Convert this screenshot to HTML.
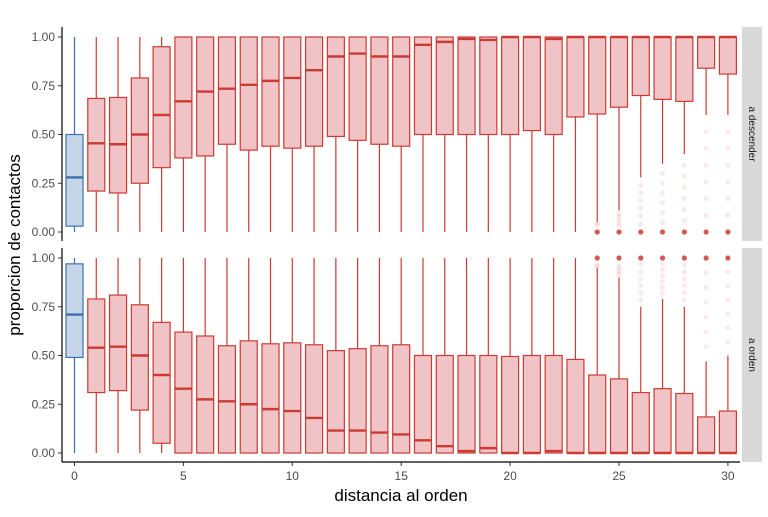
<!DOCTYPE html>
<html><head><meta charset="utf-8"><style>
body{margin:0;background:#fff;width:768px;height:512px;overflow:hidden;font-family:"Liberation Sans",sans-serif}
</style></head><body>
<svg id="s" width="768" height="512" xmlns="http://www.w3.org/2000/svg" font-family="Liberation Sans, sans-serif"></svg>
<script>
(function(){
var s=document.getElementById('s');var h='';
function X(i){return 74.5+i*21.78;}
var dTop=[[0,.03,.28,.5,1],[0,.21,.455,.685,1],[0,.2,.45,.69,1],[0,.25,.5,.79,1],[0,.33,.6,.95,1],[0,.38,.67,1,1],[0,.39,.72,1,1],[0,.45,.735,1,1],[0,.42,.755,1,1],[0,.44,.775,1,1],[0,.43,.79,1,1],[0,.44,.83,1,1],[0,.49,.9,1,1],[0,.47,.915,1,1],[0,.45,.9,1,1],[0,.44,.9,1,1],[0,.5,.96,1,1],[0,.5,.975,1,1],[0,.5,.99,1,1],[0,.5,.985,1,1],[0,.5,1,1,1],[0,.52,1,1,1],[0,.5,.99,1,1],[0,.59,1,1,1],[.05,.605,1,1,1],[.11,.64,1,1,1],[.28,.7,1,1,1],[.35,.68,1,1,1],[.4,.67,1,1,1],[.6,.84,1,1,1],[.6,.81,1,1,1]];
var dBot=[[0,.49,.71,.97,1],[0,.31,.54,.79,1],[0,.32,.545,.81,1],[0,.22,.5,.76,1],[0,.05,.4,.67,1],[0,0,.33,.62,1],[0,0,.275,.6,1],[0,0,.265,.55,1],[0,0,.25,.575,1],[0,0,.225,.56,1],[0,0,.215,.565,1],[0,0,.18,.555,1],[0,0,.115,.525,1],[0,0,.115,.535,1],[0,0,.105,.55,1],[0,0,.095,.555,1],[0,0,.065,.5,1],[0,0,.035,.5,1],[0,0,.01,.5,1],[0,0,.025,.5,1],[0,0,0,.495,1],[0,0,0,.5,1],[0,0,.01,.5,1],[0,0,0,.48,1],[0,0,0,.4,.95],[0,0,0,.38,.9],[0,0,0,.31,.75],[0,0,0,.33,.79],[0,0,0,.305,.75],[0,0,0,.185,.47],[0,0,0,.215,.5]];
function panel(d,y0,pt,pb,outTop){
 function Y(v){return y0-v*195;}
 h+='<line x1="62" y1="'+pt+'" x2="62" y2="'+pb+'" stroke="#000" stroke-width="1.2"/>';
 [0,.25,.5,.75,1].forEach(function(v){h+='<line x1="58" x2="62" y1="'+Y(v)+'" y2="'+Y(v)+'" stroke="#333"/><text x="55" y="'+(Y(v)+4)+'" font-size="12" fill="#4d4d4d" text-anchor="end">'+v.toFixed(2)+'</text>';});
 d.forEach(function(b,i){var x=X(i),c=i==0?'#3a6fb0':'#cc3a33',f=i==0?'#c6d5e8':'#f0c4c6';
  h+='<line x1="'+x+'" x2="'+x+'" y1="'+Y(b[0])+'" y2="'+Y(b[4])+'" stroke="'+c+'" stroke-width="1.2"/>';
  h+='<rect x="'+(x-8.5)+'" y="'+Y(b[3])+'" width="17" height="'+Math.max(Y(b[1])-Y(b[3]),0.5)+'" fill="'+f+'" stroke="'+c+'" stroke-width="1.2"/>';
  h+='<line x1="'+(x-8.5)+'" x2="'+(x+8.5)+'" y1="'+Y(b[2])+'" y2="'+Y(b[2])+'" stroke="'+c+'" stroke-width="2.4"/>';
  if(i>=24){h+='<circle cx="'+x+'" cy="'+Y(outTop?0:1)+'" r="2.6" fill="#cc3a33" opacity=".85"/>';
   for(var k=0;k<6;k++){var v=outTop?(b[0]*((k+1)/7)):(b[4]+(1-b[4])*((k+1)/7));if(Math.abs(v-(outTop?0:1))>.03)h+='<circle cx="'+x+'" cy="'+Y(v)+'" r="2.6" fill="#e07070" opacity=".15"/>';}}
 });
}
panel(dTop,232,27,241,true);
panel(dBot,453,248,462,false);
h+='<line x1="62" x2="740" y1="462" y2="462" stroke="#000" stroke-width="1.2"/>';
[0,5,10,15,20,25,30].forEach(function(v){var x=X(v);h+='<line x1="'+x+'" x2="'+x+'" y1="462" y2="466" stroke="#333"/><text x="'+x+'" y="480" font-size="12" fill="#4d4d4d" text-anchor="middle">'+v+'</text>';});
h+='<rect x="742" y="27" width="20" height="214" fill="#d9d9d9"/><rect x="742" y="248" width="20" height="214" fill="#d9d9d9"/>';
h+='<text transform="translate(749,134) rotate(90)" font-size="10" fill="#1a1a1a" text-anchor="middle">a descender</text>';
h+='<text transform="translate(749,355) rotate(90)" font-size="10" fill="#1a1a1a" text-anchor="middle">a orden</text>';
h+='<text x="401" y="501" font-size="17" fill="#000" text-anchor="middle">distancia al orden</text>';
h+='<text transform="translate(20,245) rotate(-90)" font-size="17" fill="#000" text-anchor="middle">proporcion de contactos</text>';
s.innerHTML=h;
})();
</script>
</body></html>
